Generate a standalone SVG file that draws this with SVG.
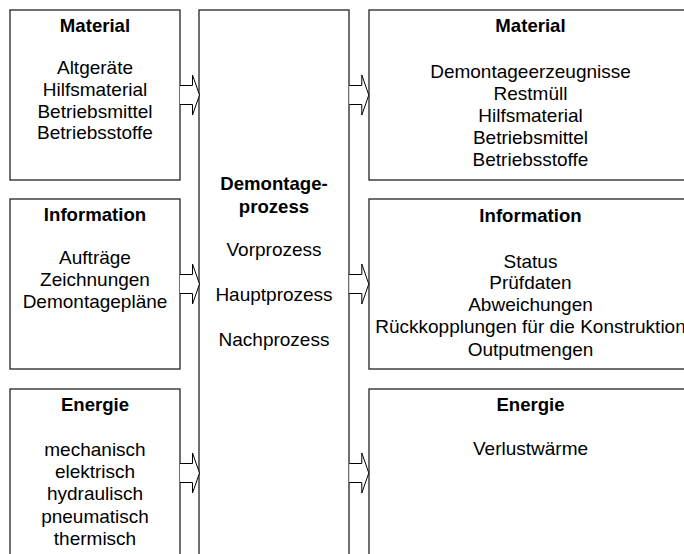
<svg xmlns="http://www.w3.org/2000/svg" width="684" height="554" viewBox="0 0 684 554">
<style>
.box{fill:#fff;stroke:#333;stroke-width:1.4}
.arr{fill:#fff;stroke:#000;stroke-width:1}
text{font-family:"Liberation Sans",Arial,sans-serif;font-size:19px;fill:#000;text-anchor:middle}
.t{font-weight:bold;font-size:18.6px}
</style>
<defs>
<path id="arrow" class="arr" d="M0,-9.5 H12.5 V-20 L19.5,0 L12.5,20 V9.5 H0"/>
</defs>
<rect width="684" height="554" fill="#fff"/>
<g id="in-material">
<rect class="box" x="10" y="10" width="170" height="170"/>
<text class="t" x="95" y="31.7">Material</text>
<text x="95" y="74.3">Altgeräte</text>
<text x="95" y="96">Hilfsmaterial</text>
<text x="95" y="117.7">Betriebsmittel</text>
<text x="95" y="139.4">Betriebsstoffe</text>
</g>
<g id="in-information">
<rect class="box" x="10" y="199" width="170" height="170"/>
<text class="t" x="95" y="221">Information</text>
<text x="95" y="264">Aufträge</text>
<text x="95" y="286">Zeichnungen</text>
<text x="95" y="308">Demontagepläne</text>
</g>
<g id="in-energie">
<rect class="box" x="10" y="389" width="170" height="180"/>
<text class="t" x="95" y="410.7">Energie</text>
<text x="95" y="455.7">mechanisch</text>
<text x="95" y="478">elektrisch</text>
<text x="95" y="500.3">hydraulisch</text>
<text x="95" y="522.6">pneumatisch</text>
<text x="95" y="544.9">thermisch</text>
</g>
<g id="prozess">
<rect class="box" x="199" y="10" width="150" height="560"/>
<text class="t" x="274" y="190">Demontage-</text>
<text class="t" x="274" y="213">prozess</text>
<text x="274" y="256">Vorprozess</text>
<text x="274" y="301">Hauptprozess</text>
<text x="274" y="346">Nachprozess</text>
</g>
<g id="out-material">
<rect class="box" x="369" y="10" width="330" height="170"/>
<text class="t" x="530.5" y="31.7">Material</text>
<text x="530.5" y="78">Demontageerzeugnisse</text>
<text x="530.5" y="100">Restmüll</text>
<text x="530.5" y="122">Hilfsmaterial</text>
<text x="530.5" y="144">Betriebsmittel</text>
<text x="530.5" y="166">Betriebsstoffe</text>
</g>
<g id="out-information">
<rect class="box" x="369" y="199" width="330" height="170"/>
<text class="t" x="530.5" y="221.7">Information</text>
<text x="530.5" y="267.7">Status</text>
<text x="530.5" y="289.4">Prüfdaten</text>
<text x="530.5" y="311.1">Abweichungen</text>
<text x="530.5" y="333.3">Rückkopplungen für die Konstruktion</text>
<text x="530.5" y="355.5">Outputmengen</text>
</g>
<g id="out-energie">
<rect class="box" x="369" y="389" width="330" height="180"/>
<text class="t" x="530.5" y="411">Energie</text>
<text x="530.5" y="455">Verlustwärme</text>
</g>
<g id="connectors">
<use href="#arrow" x="180" y="95"/>
<use href="#arrow" x="180" y="284"/>
<use href="#arrow" x="180" y="473"/>
<use href="#arrow" x="349.3" y="95"/>
<use href="#arrow" x="349.3" y="284"/>
<use href="#arrow" x="349.3" y="473"/>
</g>
</svg>
